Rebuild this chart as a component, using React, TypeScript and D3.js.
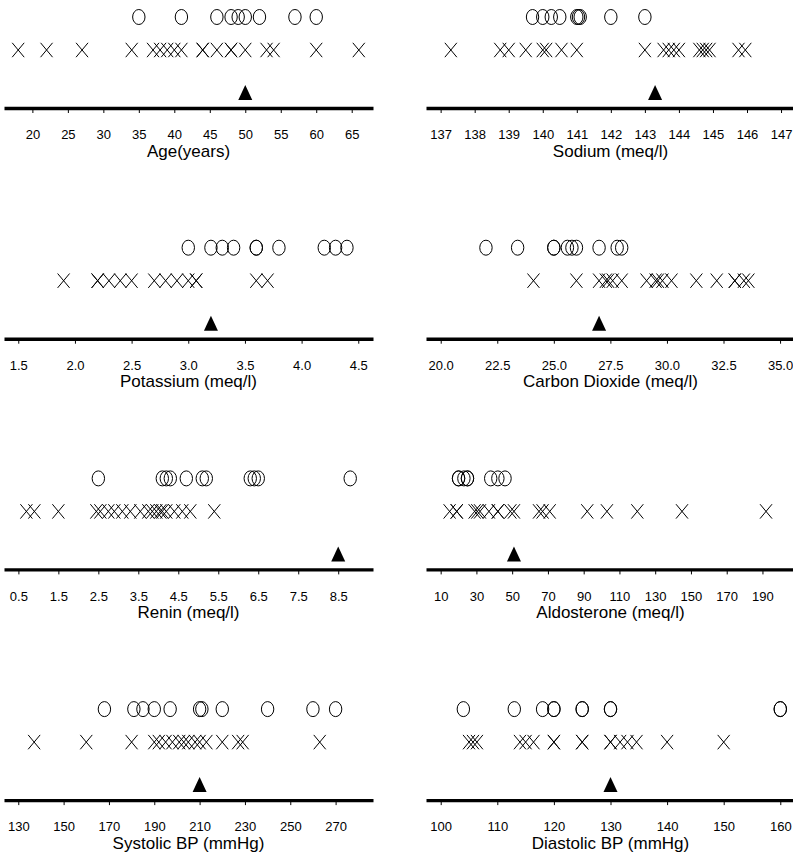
import * as d3 from 'd3';
import React, { useRef, useEffect } from 'react';

// values, one small set per panel
const ageCircles = [35, 41, 46, 48, 49, 50, 52, 57, 60];
const ageCrosses = [18, 22, 27, 34, 37, 38, 39, 40, 41, 44, 44, 46, 48, 48, 50, 53, 54, 60, 66];
const ageMarker = 50;
const ageTicks = [20, 25, 30, 35, 40, 45, 50, 55, 60, 65];
const ageDomain = [16, 68];

const sodiumCircles = [139.7, 140.0, 140.25, 140.5, 141.0, 141.05, 141.1, 142, 143];
const sodiumCrosses = [137.3, 138.75, 139.0, 139.5, 140.0, 140.1, 140.55, 141.0, 143.0, 143.55, 143.7, 143.85, 144.0, 144.6, 144.7, 144.8, 144.9, 145.75, 145.95];
const sodiumMarker = 143.3;
const sodiumTicks = [137, 138, 139, 140, 141, 142, 143, 144, 145, 146, 147];
const sodiumDomain = [136.57, 147.41];

const potassiumCircles = [3.0, 3.2, 3.3, 3.4, 3.6, 3.6, 3.8, 4.2, 4.3, 4.4];
const potassiumCrosses = [1.9, 2.2, 2.2, 2.3, 2.4, 2.5, 2.7, 2.8, 2.9, 3.0, 3.07, 3.07, 3.6, 3.7];
const potassiumMarker = 3.2;
const potassiumTicks = [1.5, 2.0, 2.5, 3.0, 3.5, 4.0, 4.5];
const potassiumDomain = [1.374, 4.63];

const co2Circles = [22, 23.4, 25, 25, 25.6, 25.8, 26, 27, 27.8, 28];
const co2Crosses = [24.1, 26, 27, 27.3, 27.4, 27.6, 28, 29.1, 29.5, 29.6, 29.8, 30.2, 31.3, 32.2, 33.0, 33.0, 33.4, 33.6];
const co2Marker = 27.0;
const co2Ticks = [20, 22.5, 25, 27.5, 30, 32.5, 35];
const co2Domain = [19.35, 35.66];

const reninCircles = [2.5, 4.1, 4.2, 4.3, 4.7, 5.1, 5.2, 6.3, 6.4, 6.5, 8.8];
const reninCrosses = [0.7, 0.9, 1.5, 2.45, 2.55, 2.75, 2.9, 3.1, 3.3, 3.55, 3.75, 3.85, 3.95, 4.05, 4.1, 4.2, 4.4, 4.6, 4.8, 5.4];
const reninMarker = 8.5;
const reninTicks = [0.5, 1.5, 2.5, 3.5, 4.5, 5.5, 6.5, 7.5, 8.5];
const reninDomain = [0.14, 9.37];

const aldoCircles = [20, 20, 23, 25, 25, 38, 42, 46];
const aldoCrosses = [15, 19, 19, 29, 30.5, 32, 37, 42, 42, 49, 51, 65, 67, 71, 92, 103, 120, 145, 192];
const aldoMarker = 51;
const aldoTicks = [10, 30, 50, 70, 90, 110, 130, 150, 170, 190];
const aldoDomain = [1.8, 208.2];

const sysCircles = [168, 181, 185, 190, 197, 210, 211, 220, 240, 260, 270];
const sysCrosses = [137, 160, 180, 190, 192, 195, 198, 201, 203, 205, 208, 210, 213, 220, 227, 229, 263];
const sysMarker = 210;
const sysTicks = [130, 150, 170, 190, 210, 230, 250, 270];
const sysDomain = [123.7, 286.5];

const diaCircles = [104, 113, 118, 120, 120, 125, 125, 130, 130, 160, 160];
const diaCrosses = [105, 105.7, 106.4, 114, 115, 116.4, 120, 120, 125, 125, 130, 130, 131.7, 133, 134.6, 140, 150];
const diaMarker = 130;
const diaTicks = [100, 110, 120, 130, 140, 150, 160];
const diaDomain = [97.4, 162.6];

const panels = [
  { title: 'Age(years)', circles: ageCircles, crosses: ageCrosses, marker: ageMarker, ticks: ageTicks, domain: ageDomain, fmt: d3.format('d') },
  { title: 'Sodium (meq/l)', circles: sodiumCircles, crosses: sodiumCrosses, marker: sodiumMarker, ticks: sodiumTicks, domain: sodiumDomain, fmt: d3.format('d') },
  { title: 'Potassium (meq/l)', circles: potassiumCircles, crosses: potassiumCrosses, marker: potassiumMarker, ticks: potassiumTicks, domain: potassiumDomain, fmt: d3.format('.1f') },
  { title: 'Carbon Dioxide (meq/l)', circles: co2Circles, crosses: co2Crosses, marker: co2Marker, ticks: co2Ticks, domain: co2Domain, fmt: d3.format('.1f') },
  { title: 'Renin (meq/l)', circles: reninCircles, crosses: reninCrosses, marker: reninMarker, ticks: reninTicks, domain: reninDomain, fmt: d3.format('.1f') },
  { title: 'Aldosterone (meq/l)', circles: aldoCircles, crosses: aldoCrosses, marker: aldoMarker, ticks: aldoTicks, domain: aldoDomain, fmt: d3.format('d') },
  { title: 'Systolic BP (mmHg)', circles: sysCircles, crosses: sysCrosses, marker: sysMarker, ticks: sysTicks, domain: sysDomain, fmt: d3.format('d') },
  { title: 'Diastolic BP (mmHg)', circles: diaCircles, crosses: diaCrosses, marker: diaMarker, ticks: diaTicks, domain: diaDomain, fmt: d3.format('d') },
];

const FONT = '"Liberation Sans", Arial, Helvetica, sans-serif';

function StripPlots({ width, height }: { width: number; height: number }) {
  const ref = useRef<SVGSVGElement>(null);

  useEffect(() => {
    const svg = d3.select(ref.current);
    svg.selectAll('*').remove();

    const panelW = 369;
    const colX = [4, 426];
    const rowStep = 230.7;

    panels.forEach((p, i) => {
      const x0 = colX[i % 2];
      const top = Math.floor(i / 2) * rowStep;
      const x = d3.scaleLinear().domain(p.domain).range([x0, x0 + panelW]);
      const g = svg.append('g').attr('transform', `translate(0,${top})`);

      // axis
      const ax = g.append('g')
        .attr('transform', 'translate(0,108)')
        .call(d3.axisBottom(x).tickValues(p.ticks).tickFormat(p.fmt as any)
          .tickSize(5).tickSizeOuter(0).tickPadding(17));
      ax.attr('font-family', FONT).attr('font-size', 13);
      ax.select('.domain').attr('stroke', '#000').attr('stroke-width', 3.4);
      ax.selectAll('.tick line').attr('stroke', '#000');
      ax.selectAll('.tick text').attr('fill', '#000');

      g.append('text')
        .attr('x', x0 + panelW / 2)
        .attr('y', 156.5)
        .attr('text-anchor', 'middle')
        .attr('font-family', FONT)
        .attr('font-size', 17)
        .attr('fill', '#000')
        .text(p.title);

      // circles row
      g.selectAll('ellipse.c')
        .data(p.circles)
        .enter()
        .append('ellipse')
        .attr('class', 'c')
        .attr('cx', d => x(d))
        .attr('cy', 17)
        .attr('rx', 6.2)
        .attr('ry', 7.5)
        .attr('fill', 'none')
        .attr('stroke', '#000')
        .attr('stroke-width', 1);

      // crosses row
      g.selectAll('path.x')
        .data(p.crosses)
        .enter()
        .append('path')
        .attr('class', 'x')
        .attr('transform', d => `translate(${x(d)},50)`)
        .attr('d', 'M-6,-7.2L6,7.2M-6,7.2L6,-7.2')
        .attr('fill', 'none')
        .attr('stroke', '#000')
        .attr('stroke-width', 1);

      // triangle marker
      g.append('path')
        .attr('transform', `translate(${x(p.marker)},100)`)
        .attr('d', 'M0,-15L7,0L-7,0Z')
        .attr('fill', '#000');
    });
  });

  return (
    <svg ref={ref} width={width} height={height}
      style={{ position: 'absolute', left: 0, top: 0, background: '#fff' }} />
  );
}

export default function App() {
  return (
    <div className="chart">
      <StripPlots width={793} height={865} />
    </div>
  );
}
